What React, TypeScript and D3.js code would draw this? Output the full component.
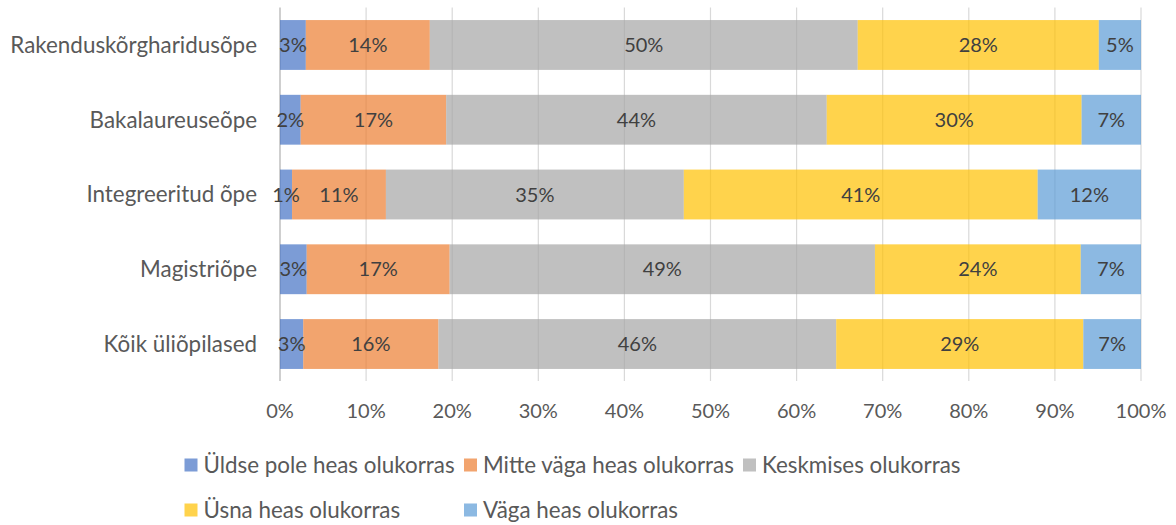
import React from "react";
import * as d3 from "d3";

const categories = [
  "Rakenduskõrgharidusõpe",
  "Bakalaureuseõpe",
  "Integreeritud õpe",
  "Magistriõpe",
  "Kõik üliõpilased",
];

const seriesNames = [
  "Üldse pole heas olukorras",
  "Mitte väga heas olukorras",
  "Keskmises olukorras",
  "Üsna heas olukorras",
  "Väga heas olukorras",
];

// share per category, in category order
const yldsePole = [3.0, 2.4, 1.4, 3.1, 2.7];
const mitteVaga = [14.4, 16.9, 10.9, 16.6, 15.7];
const keskmine = [49.7, 44.2, 34.6, 49.4, 46.2];
const usnaHeas = [28.0, 29.6, 41.1, 23.9, 28.7];
const vagaHeas = [4.9, 6.9, 12.0, 7.0, 6.7];

const xTicks = [0, 10, 20, 30, 40, 50, 60, 70, 80, 90, 100];

const colors = ["#4472C4", "#ED7D31", "#A5A5A5", "#FFC000", "#5B9BD5"];

const App = () => {
  const width = 1176,
    height = 525;
  const font = "Lato, 'Open Sans', sans-serif";

  const series = [yldsePole, mitteVaga, keskmine, usnaHeas, vagaHeas];
  const rows = categories.map((c, i) => {
    const r: any = { cat: c };
    seriesNames.forEach((s, j) => (r[s] = series[j][i]));
    return r;
  });
  const stacked = d3.stack().keys(seriesNames)(rows);

  const x = d3.scaleLinear().domain([0, 100]).range([280, 1141]);
  const y = d3
    .scaleBand()
    .domain(categories)
    .range([7.6, 381.4])
    .paddingInner(1 / 3)
    .paddingOuter(1 / 6);

  // legend: 3 columns, 2 rows
  const legendCols = [184.5, 464, 743];
  const legendRows = [465, 510];

  return (
    <svg
      width={width}
      height={height}
      style={{ position: "absolute", left: 0, top: 0, background: "#fff" }}
      fontFamily={font}
    >
      {xTicks.map((t) => (
        <line
          key={"g" + t}
          x1={x(t)}
          x2={x(t)}
          y1={7.6}
          y2={381}
          stroke={t === 0 ? "#BFBFBF" : "#D9D9D9"}
          strokeWidth={t === 0 ? 1.5 : 1.2}
        />
      ))}
      {stacked.map((s, j) => (
        <g key={s.key} fill={colors[j]} fillOpacity={0.7}>
          {s.map((d, i) => (
            <rect
              key={i}
              x={x(d[0])}
              y={y(categories[i])}
              width={x(d[1]) - x(d[0])}
              height={y.bandwidth()}
            />
          ))}
        </g>
      ))}
      {stacked.map((s, j) => (
        <g key={"l" + s.key} fill="#404040" fontSize={20} textAnchor="middle">
          {s.map((d, i) => (
            <text
              key={i}
              x={(x(d[0]) + x(d[1])) / 2}
              y={(y(categories[i]) as number) + y.bandwidth() / 2}
              dy="0.35em"
            >
              {Math.round(d[1] - d[0]) + "%"}
            </text>
          ))}
        </g>
      ))}
      <g fill="#595959" fontSize={22.4} textAnchor="end">
        {categories.map((c) => (
          <text key={c} x={257} y={(y(c) as number) + y.bandwidth() / 2} dy="0.35em">
            {c}
          </text>
        ))}
      </g>
      <g fill="#595959" fontSize={20} textAnchor="middle">
        {xTicks.map((t) => (
          <text key={t} x={x(t)} y={411} dy="0.35em">
            {t + "%"}
          </text>
        ))}
      </g>
      <g fontSize={22.4} fill="#595959">
        {seriesNames.map((s, j) => {
          const lx = legendCols[j % 3] + (j === 4 ? legendCols[1] - legendCols[0] : 0) * 0;
          const col = j < 3 ? j : j - 3;
          const ly = legendRows[j < 3 ? 0 : 1];
          return (
            <g key={s}>
              <rect
                x={legendCols[col]}
                y={ly - 6.5}
                width={13}
                height={13}
                fill={colors[j]}
                fillOpacity={0.7}
              />
              <text x={legendCols[col] + 19} y={ly} dy="0.35em">
                {s}
              </text>
            </g>
          );
        })}
      </g>
    </svg>
  );
};

export default App;
